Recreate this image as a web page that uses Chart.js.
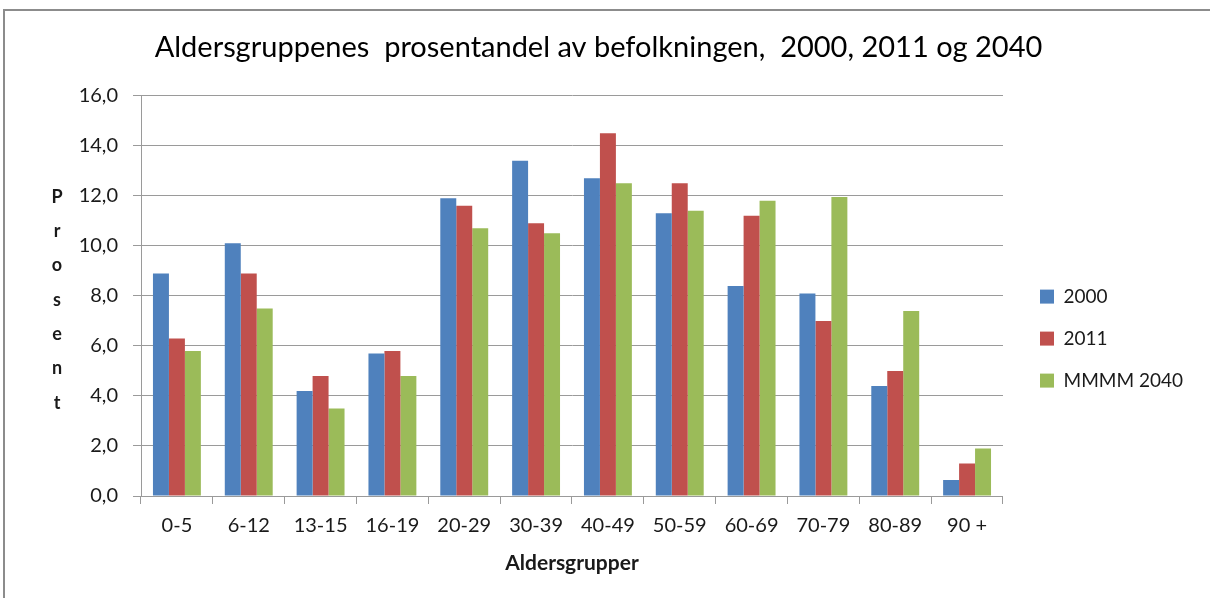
<!DOCTYPE html>
<html>
<head>
<meta charset="utf-8">
<script src="https://cdn.jsdelivr.net/npm/chart.js@4/dist/chart.umd.min.js"></script>
<style>
  html, body { margin: 0; padding: 0; background: #fff; overflow: hidden; }
  #wrap { position: relative; width: 1210px; height: 598px; }
  #frame { position: absolute; left: 3px; top: 9px; width: 1230px; height: 620px;
           border-left: 2px solid #8c8c8c; border-top: 2px solid #8c8c8c; }
  #myBarChart { position: absolute; left: 0; top: 0; }
</style>
</head>
<body>
<div id="wrap">
  <div id="frame"></div>
  <canvas id="myBarChart" width="1210" height="598"></canvas>
</div>
<script>
var aldersgrupper = ["0-5", "6-12", "13-15", "16-19", "20-29", "30-39", "40-49", "50-59", "60-69", "70-79", "80-89", "90 +"];
var andel2000 = [8.9, 10.1, 4.2, 5.7, 11.9, 13.4, 12.7, 11.3, 8.4, 8.1, 4.4, 0.64];
var andel2011 = [6.3, 8.9, 4.8, 5.8, 11.6, 10.9, 14.5, 12.5, 11.2, 7.0, 5.0, 1.3];
var andel2040 = [5.8, 7.5, 3.5, 4.8, 10.7, 10.5, 12.5, 11.4, 11.8, 11.95, 7.4, 1.9];
var serieNavn = ["2000", "2011", "MMMM 2040"];
var yTicks = [0, 2, 4, 6, 8, 10, 12, 14, 16];

var fontFam = "Lato, 'Open Sans', sans-serif";
var gridFarge = '#9a9a9a';

// loddrett "Prosent" til venstre, en bokstav per linje
var prosentTittel = {
    id: 'prosentTittel',
    afterDraw: function(chart) {
        var ctx = chart.ctx;
        var area = chart.chartArea;
        var bokstaver = "Prosent".split("");
        var steg = 34.3;
        var midt = (area.top + area.bottom) / 2 + 4;
        var start = midt - steg * (bokstaver.length - 1) / 2;
        ctx.save();
        ctx.font = "bold 18px " + fontFam;
        ctx.fillStyle = '#1a1a1a';
        ctx.textAlign = 'center';
        ctx.textBaseline = 'middle';
        bokstaver.forEach(function(b, i) {
            ctx.fillText(b, 57, start + i * steg);
        });
        ctx.restore();
    }
};

var ctx = document.getElementById("myBarChart").getContext('2d');
var myBarChart = new Chart(ctx, {
    type: 'bar',
    data: {
        labels: aldersgrupper,
        datasets: [{
            label: serieNavn[0],
            data: andel2000,
            backgroundColor: '#4F81BD'
        }, {
            label: serieNavn[1],
            data: andel2011,
            backgroundColor: '#C0504D'
        }, {
            label: serieNavn[2],
            data: andel2040,
            backgroundColor: '#9BBB59'
        }]
    },
    options: {
        responsive: false,
        animation: false,
        layout: {
            padding: { top: 10, left: 4, right: 17, bottom: 16 }
        },
        datasets: {
            bar: { categoryPercentage: 0.667, barPercentage: 1.0 }
        },
        plugins: {
            title: {
                display: true,
                text: 'Aldersgruppenes  prosentandel av befolkningen,  2000, 2011 og 2040',
                color: '#000',
                font: { family: fontFam, size: 29, weight: 'normal' },
                padding: { top: 20, bottom: 31 }
            },
            legend: {
                position: 'right',
                title: {
                    display: true,
                    text: '',
                    font: { size: 1 },
                    padding: { top: 84, bottom: 0 }
                },
                labels: {
                    boxWidth: 14,
                    boxHeight: 14,
                    padding: 23,
                    color: '#1a1a1a',
                    font: { family: fontFam, size: 19 }
                }
            },
            tooltip: { enabled: false }
        },
        scales: {
            x: {
                grid: {
                    display: true,
                    offset: true,
                    drawOnChartArea: false,
                    tickLength: 8,
                    color: gridFarge
                },
                border: { color: gridFarge },
                ticks: {
                    color: '#1a1a1a',
                    padding: 10,
                    maxRotation: 0,
                    font: { family: fontFam, size: 20 }
                },
                title: {
                    display: true,
                    text: 'Aldersgrupper',
                    color: '#1a1a1a',
                    font: { family: fontFam, size: 21, weight: 'bold' },
                    padding: { top: 0, bottom: 6 }
                },
                afterFit: function(s) { s.height = 86; }
            },
            y: {
                min: yTicks[0],
                max: yTicks[yTicks.length - 1],
                afterBuildTicks: function(s) {
                    s.ticks = yTicks.map(function(v) { return { value: v }; });
                },
                grid: {
                    color: gridFarge,
                    tickLength: 8
                },
                border: { color: gridFarge },
                ticks: {
                    color: '#1a1a1a',
                    padding: 15,
                    font: { family: fontFam, size: 20 },
                    callback: function(value) {
                        return value.toFixed(1).replace('.', ',');
                    }
                },
                afterFit: function(s) { s.width = 137; }
            },
            luft: {
                position: 'right',
                display: true,
                grid: { display: false },
                border: { display: false },
                ticks: { display: false },
                afterFit: function(s) { s.width = 14; }
            }
        }
    },
    plugins: [prosentTittel]
});
</script>
</body>
</html>
